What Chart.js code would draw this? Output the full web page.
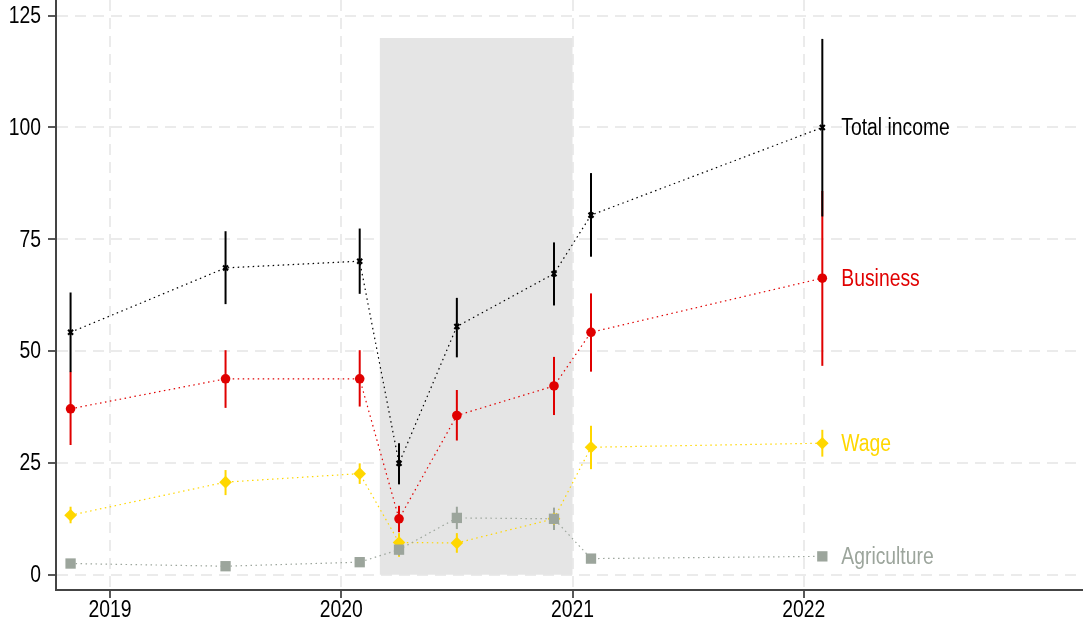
<!DOCTYPE html>
<html>
<head>
<meta charset="utf-8">
<script src="https://cdn.jsdelivr.net/npm/chart.js@4.4.1/dist/chart.umd.min.js"></script>
<style>
  html, body { margin: 0; padding: 0; background: #fff; }
</style>
</head>
<body>
<canvas id="chart" width="1083" height="630"></canvas>
<script>
// survey rounds as decimal years
const periods = [2018.83, 2019.5, 2020.08, 2020.25, 2020.5, 2020.92, 2021.08, 2022.08]

const totalIncome = [54.2, 68.6, 70.1, 24.9, 55.5, 67.3, 80.4, 100.0]
const totalLo = [45.3, 60.5, 62.8, 20.2, 48.6, 60.2, 71.1, 80.1]
const totalHi = [63.1, 76.8, 77.4, 29.4, 61.9, 74.3, 89.8, 119.8]

const business = [37.1, 43.8, 43.8, 12.5, 35.6, 42.2, 54.2, 66.3]
const businessLo = [29.0, 37.3, 37.6, 9.5, 30.0, 35.7, 45.4, 46.7]
const businessHi = [45.4, 50.2, 50.2, 15.4, 41.3, 48.7, 62.9, 85.8]

const wage = [13.3, 20.7, 22.6, 7.2, 7.1, 12.5, 28.5, 29.4]
const wageLo = [11.5, 17.8, 20.3, 4.0, 4.9, 10.0, 23.6, 26.4]
const wageHi = [15.2, 23.4, 24.9, 9.3, 9.3, 14.8, 33.3, 32.4]

const agriculture = [2.5, 1.9, 2.8, 5.6, 12.7, 12.5, 3.6, 4.1]
const agricultureLo = [1.8, 1.3, 2.1, 4.3, 10.2, 10.0, 2.8, 3.2]
const agricultureHi = [3.2, 2.5, 3.5, 6.9, 15.2, 15.0, 4.4, 5.0]

const yTicks = [0, 25, 50, 75, 100, 125]
const xTicks = [2019, 2020, 2021, 2022]

// shaded period (x from, x to, y top)
const shadeFrom = 2020.167
const shadeTo = 2021.0
const shadeTop = 120

const FONT = "'Liberation Sans', Arial, sans-serif"
const SQUEEZE = 0.84 // the original type is a narrow face
Chart.defaults.font.family = FONT

const series = [
  { label: 'Total income', values: totalIncome, lo: totalLo, hi: totalHi, color: '#000000', style: 'crossRot', radius: 3.5, bw: 2.2 },
  { label: 'Business', values: business, lo: businessLo, hi: businessHi, color: '#e00000', style: 'circle', radius: 4.8, bw: 0 },
  { label: 'Agriculture', values: agriculture, lo: agricultureLo, hi: agricultureHi, color: '#9ca59c', style: 'rect', radius: 7.3, bw: 0 },
  { label: 'Wage', values: wage, lo: wageLo, hi: wageHi, color: '#ffd700', style: 'rectRot', radius: 6.3, bw: 0 }
]

const toPoints = arr => arr.map((v, i) => ({ x: periods[i], y: v }))

const datasets = series.map(s => ({
  label: s.label,
  data: toPoints(s.values),
  showLine: true,
  borderColor: s.color,
  borderWidth: 1.2,
  borderDash: [1.5, 3.5],
  pointStyle: s.style,
  pointRadius: s.radius,
  pointBackgroundColor: s.color,
  pointBorderColor: s.color,
  pointBorderWidth: s.bw,
  clip: false
}))

function narrowText(ctx, text, x, y, align) {
  ctx.save()
  ctx.translate(x, y)
  ctx.scale(SQUEEZE, 1)
  ctx.textAlign = align
  ctx.fillText(text, 0, 0)
  ctx.restore()
}

const backdrop = {
  id: 'backdrop',
  beforeDatasetsDraw(chart) {
    const { ctx, scales: { x, y } } = chart
    ctx.save()
    // grey shaded period
    const x0 = x.getPixelForValue(shadeFrom)
    const x1 = x.getPixelForValue(shadeTo)
    const y0 = y.getPixelForValue(shadeTop)
    const y1 = y.getPixelForValue(0)
    ctx.fillStyle = '#e5e5e5'
    ctx.fillRect(x0, y0, x1 - x0, y1 - y0)

    // error bars, bottom series first
    ctx.lineWidth = 2
    for (let k = series.length - 1; k >= 0; k--) {
      const s = series[k]
      ctx.strokeStyle = s.color
      periods.forEach((p, i) => {
        const px = x.getPixelForValue(p)
        ctx.beginPath()
        ctx.moveTo(px, y.getPixelForValue(s.lo[i]))
        ctx.lineTo(px, y.getPixelForValue(s.hi[i]))
        ctx.stroke()
      })
    }
    ctx.restore()
  }
}

const labels = {
  id: 'labels',
  afterDraw(chart) {
    const { ctx, chartArea, scales: { x, y } } = chart
    ctx.save()
    ctx.font = '23px ' + FONT
    ctx.textBaseline = 'middle'

    // axis tick labels
    ctx.fillStyle = '#000'
    yTicks.forEach(v => narrowText(ctx, String(v), 41, y.getPixelForValue(v) + 1, 'right'))
    xTicks.forEach(v => narrowText(ctx, String(v), x.getPixelForValue(v), chartArea.bottom + 21, 'center'))

    // series names at the last round
    const last = periods.length - 1
    series.forEach(s => {
      ctx.fillStyle = s.color
      narrowText(ctx, s.label, x.getPixelForValue(periods[last]) + 19, y.getPixelForValue(s.values[last]) + 1, 'left')
    })
    ctx.restore()
  }
}

const noPad = scale => {
  scale.paddingLeft = 0
  scale.paddingRight = 0
  scale.paddingTop = 0
  scale.paddingBottom = 0
}

new Chart(document.getElementById('chart').getContext('2d'), {
  type: 'scatter',
  data: { datasets },
  plugins: [backdrop, labels],
  options: {
    responsive: false,
    animation: false,
    layout: { padding: 0, autoPadding: false },
    plugins: {
      legend: { display: false },
      tooltip: { enabled: false }
    },
    scales: {
      x: {
        type: 'linear',
        min: 2018.767,
        max: 2023.207,
        afterBuildTicks: scale => { scale.ticks = xTicks.map(v => ({ value: v })) },
        afterFit: scale => { scale.height = 40; noPad(scale) },
        grid: {
          color: '#ebebeb',
          lineWidth: 2,
          tickColor: '#222',
          tickLength: 8,
          tickWidth: 1.5
        },
        border: { display: true, color: '#444', width: 2, dash: [11, 7] },
        ticks: { display: false }
      },
      y: {
        min: -3.42,
        max: 128.5,
        afterBuildTicks: scale => { scale.ticks = yTicks.map(v => ({ value: v })) },
        afterFit: scale => { scale.width = 56; noPad(scale) },
        grid: {
          color: '#ebebeb',
          lineWidth: 2,
          tickColor: '#222',
          tickLength: 8,
          tickWidth: 1.5
        },
        border: { display: true, color: '#444', width: 2, dash: [11, 7] },
        ticks: { display: false }
      }
    }
  }
})
</script>
</body>
</html>
